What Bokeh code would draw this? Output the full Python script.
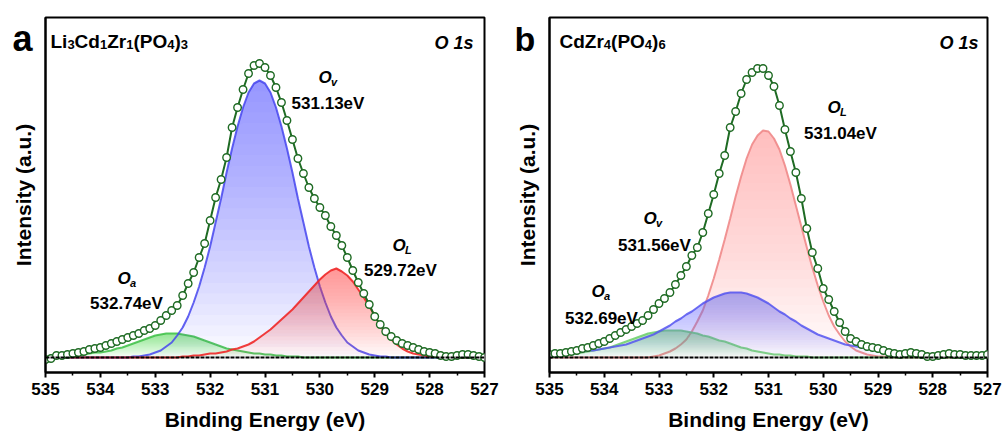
import numpy as np
from bokeh.plotting import figure
from bokeh.models import Range1d, FixedTicker, Label, Span
from bokeh.layouts import row
from bokeh.embed import file_html
from bokeh.resources import INLINE

# ---------------- data (binding energy grid, eV) ----------------
energy = [535.0, 534.9, 534.8, 534.7, 534.6, 534.5, 534.4, 534.3, 534.2, 534.1,
          534.0, 533.9, 533.8, 533.7, 533.6, 533.5, 533.4, 533.3, 533.2, 533.1,
          533.0, 532.9, 532.8, 532.7, 532.6, 532.5, 532.4, 532.3, 532.2, 532.1,
          532.0, 531.9, 531.8, 531.7, 531.6, 531.5, 531.4, 531.3, 531.2, 531.1,
          531.0, 530.9, 530.8, 530.7, 530.6, 530.5, 530.4, 530.3, 530.2, 530.1,
          530.0, 529.9, 529.8, 529.7, 529.6, 529.5, 529.4, 529.3, 529.2, 529.1,
          529.0, 528.9, 528.8, 528.7, 528.6, 528.5, 528.4, 528.3, 528.2, 528.1,
          528.0, 527.9, 527.8, 527.7, 527.6, 527.5, 527.4, 527.3, 527.2, 527.1,
          527.0]

# panel a : Li3Cd1Zr1(PO4)3
a_raw = [-2, -1, 2, 2, 3, 4, 5, 6, 8, 9,
         10, 12, 14, 16, 18, 20, 22, 24, 27, 29,
         32, 37, 42, 47, 52, 62, 74, 85, 100, 114,
         137, 160, 178, 200, 230, 250, 268, 284, 292, 294,
         290, 282, 270, 255, 237, 218, 199, 184, 170, 159,
         150, 142, 131, 122, 112, 100, 87, 75, 64, 53,
         41, 33, 26, 21, 17, 14, 12, 10, 8, 6,
         5, 4, 2, 1, 1, 2, 3, 3, 2, 1,
         0]
a_ov = [0, 0, 0, 0, 0, 0, 0, 0, 0, 0,
        0, 0, 0, 0, 0, 0, 1, 1, 2, 3,
        5, 7, 11, 15, 22, 30, 41, 55, 71, 90,
        111, 135, 159, 185, 209, 231, 250, 265, 274, 277,
        274, 265, 250, 231, 209, 185, 159, 135, 111, 90,
        71, 55, 41, 30, 22, 15, 11, 7, 5, 3,
        2, 1, 1, 0, 0, 0, 0, 0, 0, 0,
        0, 0, 0, 0, 0, 0, 0, 0, 0, 0,
        0]
a_ol = [0, 0, 0, 0, 0, 0, 0, 0, 0, 0,
        0, 0, 0, 0, 0, 0, 0, 0, 0, 0,
        0, 0, 0, 0, 0, 1, 1, 2, 2, 3,
        4, 4, 5, 6, 8, 9, 11, 13, 16, 20,
        24, 28, 33, 38, 43, 48, 54, 60, 66, 72,
        78, 83, 87, 89, 86, 82, 76, 68, 60, 51,
        42, 32, 24, 18, 13, 9, 6, 4, 3, 2,
        1, 1, 0, 0, 0, 0, 0, 0, 0, 0,
        0]
a_oa = [0, 1, 1, 1, 2, 2, 2, 3, 4, 5,
        5, 6, 7, 9, 10, 12, 14, 16, 18, 20,
        22, 23, 24, 24, 24, 23, 22, 21, 19, 17,
        15, 13, 11, 9, 8, 7, 6, 5, 4, 4,
        3, 3, 2, 2, 1, 1, 1, 0, 0, 0,
        0, 0, 0, 0, 0, 0, 0, 0, 0, 0,
        0, 0, 0, 0, 0, 0, 0, 0, 0, 0,
        0, 0, 0, 0, 0, 0, 0, 0, 0, 0,
        0]

# panel b : CdZr4(PO4)6
b_raw = [3, 4, 4, 5, 6, 7, 9, 10, 12, 14,
         16, 19, 22, 25, 28, 31, 34, 37, 42, 48,
         54, 59, 65, 73, 82, 91, 102, 110, 125, 144,
         163, 184, 202, 230, 246, 264, 278, 285, 289, 289,
         282, 271, 252, 228, 206, 185, 159, 129, 105, 89,
         69, 58, 46, 35, 26, 19, 16, 13, 11, 10,
         9, 7, 5, 4, 3, 4, 5, 4, 3, 1,
         1, 2, 3, 4, 3, 3, 2, 2, 2, 2,
         3]
b_ol = [0, 0, 0, 0, 0, 0, 0, 0, 0, 0,
        0, 0, 0, 0, 0, 0, 0, 0, 0, 1,
        2, 4, 6, 9, 13, 18, 26, 36, 47, 62,
        79, 98, 118, 139, 161, 181, 199, 213, 222, 227,
        226, 219, 208, 192, 173, 152, 131, 110, 90, 72,
        56, 42, 31, 23, 16, 11, 7, 5, 3, 2,
        1, 1, 0, 0, 0, 0, 0, 0, 0, 0,
        0, 0, 0, 0, 0, 0, 0, 0, 0, 0,
        0]
b_ov = [3, 4, 4, 5, 5, 6, 6, 7, 7, 8,
        9, 10, 11, 12, 13, 15, 17, 19, 21, 23,
        26, 29, 32, 36, 39, 43, 46, 50, 54, 57,
        60, 62, 64, 65, 65, 65, 64, 62, 60, 57,
        54, 50, 46, 43, 39, 36, 32, 29, 26, 23,
        21, 19, 17, 15, 13, 12, 11, 10, 9, 8,
        7, 7, 6, 6, 5, 5, 4, 4, 3, 3,
        3, 2, 2, 2, 2, 1, 1, 1, 1, 1,
        1]
b_oa = [2, 2, 3, 3, 4, 4, 5, 6, 7, 8,
        9, 10, 12, 14, 16, 18, 20, 22, 24, 25,
        26, 27, 27, 27, 27, 26, 25, 24, 22, 21,
        19, 17, 16, 14, 12, 10, 9, 7, 6, 5,
        4, 3, 3, 2, 2, 1, 1, 1, 0, 0,
        0, 0, 0, 0, 0, 0, 0, 0, 0, 0,
        0, 0, 0, 0, 0, 0, 0, 0, 0, 0,
        0, 0, 0, 0, 0, 0, 0, 0, 0, 0,
        0]

major_ticks = [535, 534, 533, 532, 531, 530, 529, 528, 527]
minor_ticks = [534.5, 533.5, 532.5, 531.5, 530.5, 529.5, 528.5, 527.5]
tick_labels = ["535", "534", "533", "532", "531", "530", "529", "528", "527"]

a_formula = [("Li", False), ("3", True), ("Cd", False), ("1", True), ("Zr", False),
             ("1", True), ("(PO", False), ("4", True), (")", False), ("3", True)]
b_formula = [("CdZr", False), ("4", True), ("(PO", False), ("4", True),
             (")", False), ("6", True)]
a_peaks = ["531.13eV", "529.72eV", "532.74eV"]
b_peaks = ["531.04eV", "531.56eV", "532.69eV"]

FONT = "Liberation Sans"
DKGREEN = "#1f6b24"
FRAME_H = 355
MAIN_PX, SUB_PX = 19, 13
# approximate advance widths (em) of Liberation Sans Bold
ADV = {"L": .611, "i": .278, "C": .722, "d": .611, "Z": .611, "r": .389,
       "(": .333, "P": .667, "O": .778, ")": .333}


def grad_fill(p, x, y, color, top_alpha=0.52, n=26):
    y = np.asarray(y, dtype=float)
    H = y.max()
    a = 1 - (1 - top_alpha) ** (1.0 / n)
    for k in range(n):
        lo = H * k / n
        p.varea(x=x, y1=np.minimum(y, lo), y2=y, fill_color=color, fill_alpha=a)


def make_panel(letter, formula, formula_x, o1s_x, raw, comps, labels,
               frame_left_page, frame_w, min_left, min_right):
    p = figure(frame_width=frame_w, frame_height=FRAME_H,
               x_range=Range1d(535, 527), y_range=Range1d(-15, 340),
               output_backend="svg", toolbar_location=None,
               min_border_left=min_left, min_border_right=min_right,
               min_border_top=17, min_border_bottom=61)
    p.background_fill_color = "white"
    p.border_fill_color = "white"
    p.grid.visible = False
    p.outline_line_color = "black"
    p.outline_line_width = 2
    p.outline_line_alpha = 1

    def dx(px):
        return 535 - (px - frame_left_page) * 8.0 / frame_w

    def dy(py):
        return 357 - py

    for y, line_c, fill_c, la in comps:
        grad_fill(p, energy, y, fill_c)
        p.line(energy, y, line_color=line_c, line_width=2, line_alpha=la)

    p.add_layout(Span(location=0, dimension="width", line_color="black",
                      line_width=2, line_dash="4 1"))
    p.line(energy, raw, line_color=DKGREEN, line_width=2)
    p.scatter(energy, raw, marker="circle", size=7.5, fill_color="white",
              line_color=DKGREEN, line_width=1.4)

    # axes
    xa = p.xaxis[0]
    xa.ticker = FixedTicker(ticks=major_ticks, minor_ticks=minor_ticks)
    xa.major_label_overrides = {t: s for t, s in zip(major_ticks, tick_labels)}
    xa.axis_line_width = 2
    xa.major_tick_line_width = 2
    xa.minor_tick_line_width = 1.5
    xa.major_tick_out = 5
    xa.major_tick_in = 0
    xa.minor_tick_out = 3
    xa.minor_tick_in = 0
    xa.major_label_text_font = FONT
    xa.major_label_text_font_style = "bold"
    xa.major_label_text_font_size = "17px"
    xa.major_label_text_color = "black"
    xa.major_label_standoff = 5
    xa.axis_label = "Binding Energy (eV)"
    xa.axis_label_text_font = FONT
    xa.axis_label_text_font_style = "bold"
    xa.axis_label_text_font_size = "21px"
    xa.axis_label_text_color = "black"
    xa.axis_label_standoff = 10

    ya = p.yaxis[0]
    ya.ticker = FixedTicker(ticks=[])
    ya.axis_line_width = 2
    ya.major_tick_out = 0
    ya.major_tick_in = 0
    ya.minor_tick_out = 0
    ya.minor_tick_in = 0
    ya.major_label_standoff = 0
    ya.axis_label = "Intensity (a.u.)"
    ya.axis_label_text_font = FONT
    ya.axis_label_text_font_style = "bold"
    ya.axis_label_text_font_size = "21px"
    ya.axis_label_text_color = "black"
    ya.axis_label_standoff = 11

    def lab(text, px, py, size, style="bold", align="left", place=None):
        l = Label(x=dx(px), y=dy(py), text=text, text_font=FONT,
                  text_font_size=size, text_font_style=style,
                  text_align=align, text_baseline="alphabetic",
                  text_color="black")
        if place:
            p.add_layout(l, place)
        else:
            p.add_layout(l)

    # panel letter lives in a side panel so that it is not clipped to the frame
    lab(letter[0], letter[1], letter[2], letter[3], place="right")

    # formula, piecewise with subscripts
    cx = formula_x
    for txt, sub in formula:
        if sub:
            lab(txt, cx, 44, "%dpx" % SUB_PX)
            cx += 0.556 * SUB_PX * len(txt)
        else:
            lab(txt, cx, 41, "%dpx" % MAIN_PX)
            cx += sum(ADV.get(ch, .556) for ch in txt) * MAIN_PX
    lab("O 1s", o1s_x, 42, "18px", "bold italic", "right")

    for sub, ox, oy, val, vx, vy in labels:
        lab("O", ox, oy, "17px", "bold italic")
        lab(sub, ox + 12.5, oy + 4, "11px", "bold italic")
        lab(val, vx, vy, "17px", "bold", "center")
    return p


pa = make_panel(("a", 12, 38, "36px"), a_formula, 50, 473, a_raw,
                [(a_oa, "#3cbf45", "#55cc55", 0.85),
                 (a_ov, "#4646ee", "#5a5af0", 0.85),
                 (a_ol, "#f02828", "#f03c3c", 0.9)],
                [("v", 318, 77, a_peaks[0], 327.5, 103),
                 ("L", 392, 245, a_peaks[1], 400, 270),
                 ("a", 117, 278, a_peaks[2], 126, 303)],
                45, 439, 45, 24)

pb = make_panel(("b", 514, 38, "34px"), b_formula, 559, 978, b_raw,
                [(b_ol, "#f08a8a", "#f38484", 0.9),
                 (b_oa, "#6ccf6c", "#66cc66", 0.85),
                 (b_ov, "#5555f0", "#5c5cf0", 0.85)],
                [("L", 827, 107, b_peaks[0], 840, 133),
                 ("v", 643, 218, b_peaks[1], 654, 245),
                 ("a", 591, 291, b_peaks[2], 601, 318)],
                549, 438, 41, 16)

layout = row(pa, pb)
open("out.html", "w").write(file_html(layout, INLINE))
